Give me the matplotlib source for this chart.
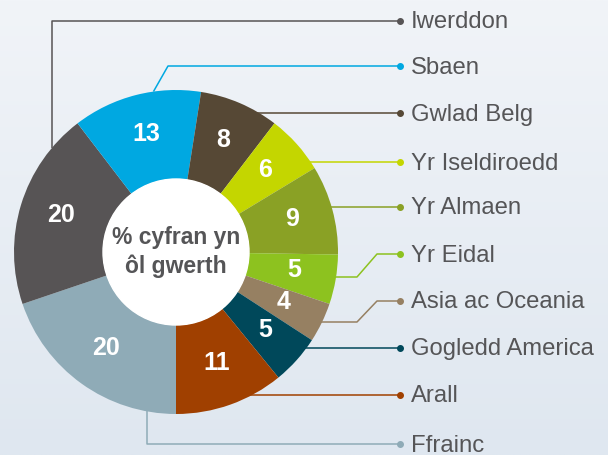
import numpy as np
import matplotlib
matplotlib.use("Agg")
import matplotlib.pyplot as plt

# ---- data ----
categories = ["Ffrainc", "Iwerddon", "Sbaen", "Gwlad Belg", "Yr Iseldiroedd",
              "Yr Almaen", "Yr Eidal", "Asia ac Oceania", "Gogledd America", "Arall"]
values = [20, 20, 13, 8, 6, 9, 5, 4, 5, 11]
colors = ["#8FABB7", "#575455", "#00A8E1", "#564835", "#C4D600",
          "#8AA125", "#8DC21F", "#968062", "#00485A", "#A04000"]
center_title = "% cyfran yn\nôl gwerth"

# legend order (top to bottom) and layout
legend_order = ["Iwerddon", "Sbaen", "Gwlad Belg", "Yr Iseldiroedd", "Yr Almaen",
                "Yr Eidal", "Asia ac Oceania", "Gogledd America", "Arall", "Ffrainc"]
label_y_px = [21, 66, 113, 162, 207, 254, 301, 348, 395, 444]

W, H = 608, 455
CX, CY = 176, 252       # px, from top
R_OUT, R_IN = 162, 73
TEXT_COLOR = "#555557"
FONT = "Liberation Sans"

def Y(ypx):
    return H - ypx

fig = plt.figure(figsize=(W / 100, H / 100), dpi=100)

# background gradient
bg = fig.add_axes([0, 0, 1, 1])
top = np.array([0xF1, 0xF4, 0xF8]) / 255
bot = np.array([0xDF, 0xE7, 0xF0]) / 255
t = np.linspace(0, 1, 256)[:, None, None]
grad = top * (1 - t) + bot * t
grad = np.repeat(grad, 2, axis=1)
bg.imshow(grad, aspect="auto", extent=[0, 1, 0, 1])
bg.axis("off")

ax = fig.add_axes([0, 0, 1, 1])
ax.patch.set_alpha(0)
wedges, _ = ax.pie(values, colors=colors, startangle=270, counterclock=False,
                   center=(CX, Y(CY)), radius=R_OUT,
                   wedgeprops=dict(width=R_OUT - R_IN, linewidth=0))
ax.add_patch(plt.Circle((CX, Y(CY)), R_IN, color="white", zorder=3))
ax.set_xlim(0, W)
ax.set_ylim(0, H)
ax.set_aspect("equal")
ax.axis("off")

# value labels
total = sum(values)
cum = np.cumsum([0] + values)
r_lab = 120
for i, v in enumerate(values):
    mid = 270 - (cum[i] + v / 2) / total * 360
    a = np.deg2rad(mid)
    x = CX + r_lab * np.cos(a)
    y = Y(CY) + r_lab * np.sin(a) + 2
    ax.text(x, y, str(v), color="white", fontsize=18, fontweight="bold",
            family=FONT, ha="center", va="center", zorder=5)

ax.text(CX, Y(CY), center_title, color=TEXT_COLOR, fontsize=16.5, fontweight="bold",
        family=FONT, ha="center", va="center", linespacing=1.25, zorder=5)

# leader lines
def edge_x(ypx):
    dy = ypx - CY
    return CX + np.sqrt(R_OUT ** 2 - dy ** 2)

def edge_y_at_x(xpx, lower=False):
    dx = xpx - CX
    d = np.sqrt(R_OUT ** 2 - dx ** 2)
    return CY + d if lower else CY - d

DOT_X = 400
TXT_X = 411
paths = {}
ly = dict(zip(legend_order, label_y_px))
paths["Iwerddon"] = [(52, edge_y_at_x(52)), (52, ly["Iwerddon"]), (DOT_X, ly["Iwerddon"])]
a = np.deg2rad(98)
paths["Sbaen"] = [(CX + R_OUT * np.cos(a), CY - R_OUT * np.sin(a)), (168, ly["Sbaen"]),
                  (DOT_X, ly["Sbaen"])]
for name in ["Gwlad Belg", "Yr Iseldiroedd", "Yr Almaen", "Gogledd America", "Arall"]:
    yy = ly[name]
    paths[name] = [(edge_x(yy) - 2, yy), (DOT_X, yy)]
paths["Yr Eidal"] = [(edge_x(277) - 2, 277), (357, 277), (377, ly["Yr Eidal"]),
                     (DOT_X, ly["Yr Eidal"])]
paths["Asia ac Oceania"] = [(edge_x(322) - 2, 322), (357, 322), (377, ly["Asia ac Oceania"]),
                            (DOT_X, ly["Asia ac Oceania"])]
paths["Ffrainc"] = [(147, edge_y_at_x(147, lower=True)), (147, ly["Ffrainc"]),
                    (DOT_X, ly["Ffrainc"])]

col_of = dict(zip(categories, colors))
for name in legend_order:
    pts = paths[name]
    xs = [p[0] for p in pts]
    ys = [Y(p[1]) for p in pts]
    c = col_of[name]
    ax.plot(xs, ys, color=c, lw=1.1, zorder=1, solid_capstyle="butt")
    ax.plot([DOT_X], [Y(ly[name])], "o", color=c, ms=4, zorder=2)
    ax.text(TXT_X, Y(ly[name] + 7.5), name, color=TEXT_COLOR, fontsize=17.2,
            family=FONT, ha="left", va="baseline")

fig.savefig("out.png", dpi=100)
